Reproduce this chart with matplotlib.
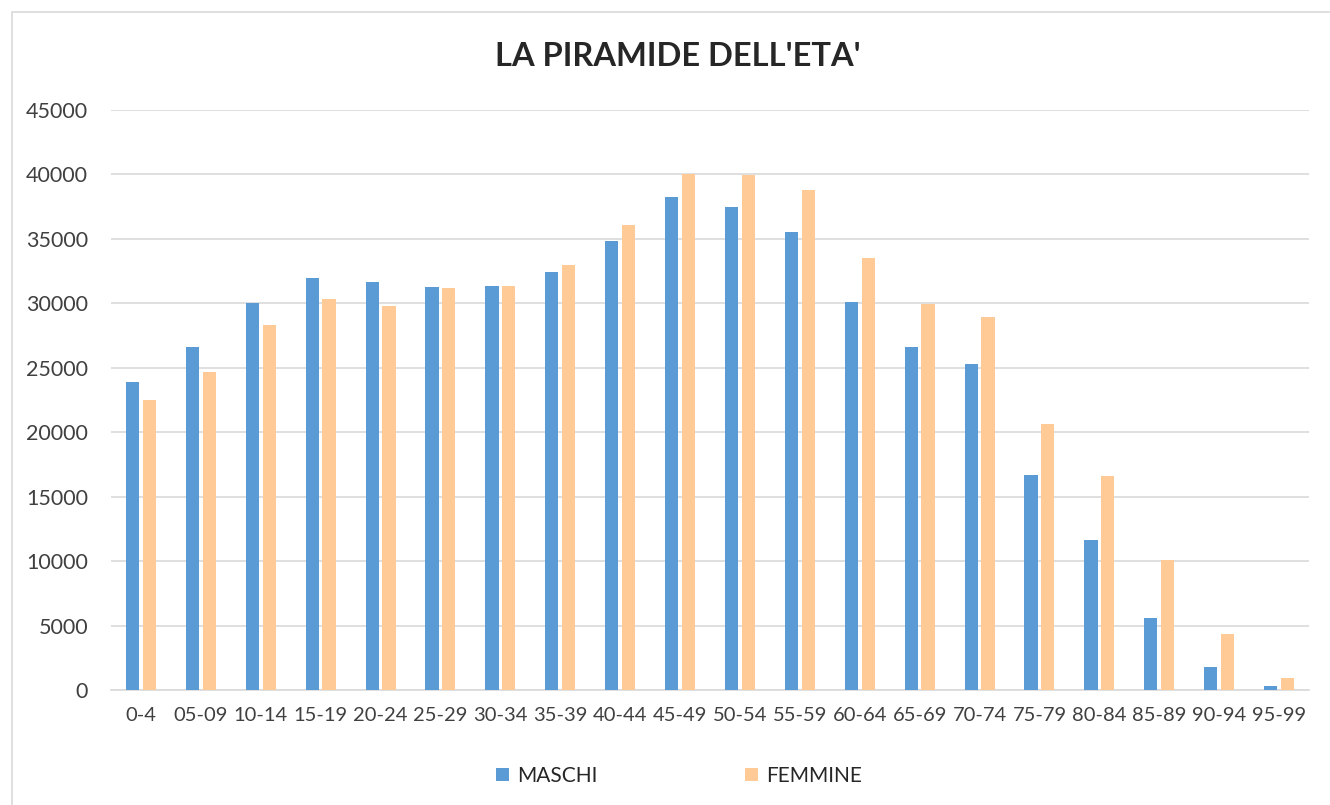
import matplotlib.pyplot as plt
import numpy as np
from matplotlib.patches import Rectangle

plt.rcParams['font.family'] = ['Lato', 'DejaVu Sans']

# dati
fasce = ['0-4', '05-09', '10-14', '15-19', '20-24', '25-29', '30-34', '35-39', '40-44', '45-49',
         '50-54', '55-59', '60-64', '65-69', '70-74', '75-79', '80-84', '85-89', '90-94', '95-99']
maschi = [23900, 26600, 30020, 31990, 31680, 31260, 31340, 32450, 34810, 38280,
          37450, 35560, 30120, 26630, 25290, 16690, 11620, 5590, 1790, 310]
femmine = [22490, 24660, 28290, 30330, 29760, 31190, 31370, 32940, 36050, 40060,
           39960, 38820, 33520, 29950, 28940, 20600, 16590, 10090, 4320, 930]

W, H = 1330, 805
fig = plt.figure(figsize=(W / 100, H / 100), dpi=100)
ax = fig.add_axes([111 / W, 1 - 690 / H, 1198 / W, 580 / H])

# bordo esterno del grafico
fig.patches.append(Rectangle((12 / W, -0.01), 1.0, 1 - 12 / H + 0.01, transform=fig.transFigure,
                             fill=False, edgecolor='#d9d9d9', linewidth=1.2))

x = np.arange(len(fasce))
w = 0.22
ax.bar(x - 0.14, maschi, w, color='#5B9BD5', label='MASCHI', zorder=3)
ax.bar(x + 0.14, femmine, w, color='#FFCA96', label='FEMMINE', zorder=3)

ax.set_xlim(-0.5, len(fasce) - 0.5)
ax.set_ylim(0, 45000)
ax.set_yticks(np.arange(0, 45001, 5000))
ax.set_xticks(x)
ax.set_xticklabels(fasce, fontsize=14.5)
ax.tick_params(axis='both', length=0, colors='#404040')
ax.tick_params(axis='y', labelsize=15.5, pad=16.5)
ax.tick_params(axis='x', pad=12)
ax.grid(axis='y', color='#d9d9d9', linewidth=1.2, zorder=0)
for s in ['top', 'right', 'left']:
    ax.spines[s].set_visible(False)
ax.spines['bottom'].set_color('#d9d9d9')
ax.spines['bottom'].set_linewidth(1.2)

fig.text(678 / W, 1 - 57 / H, "LA PIRAMIDE DELL'ETA'", ha='center', va='center',
         fontsize=23.5, fontweight='bold', color='#262626')

leg = fig.legend(loc='center', bbox_to_anchor=(679 / W, 1 - 776 / H), ncol=2, frameon=False,
                 fontsize=15, handlelength=0.6, handleheight=0.6, columnspacing=7.1,
                 handletextpad=0.4)
for t in leg.get_texts():
    t.set_color('#262626')

plt.savefig('out.png', dpi=100)
plt.close()
